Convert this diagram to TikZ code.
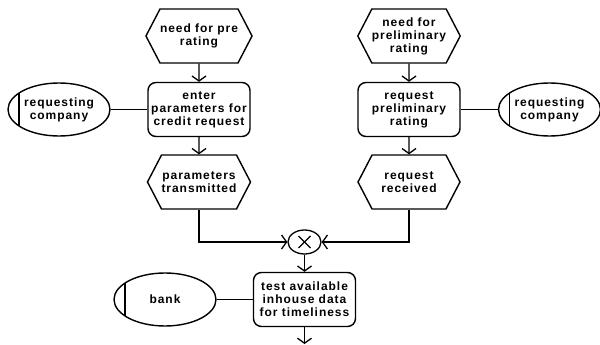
\documentclass[tikz,border=0pt]{standalone}
\usepackage{fontspec}
\setmainfont{Liberation Sans}[LetterSpace=8]
\usetikzlibrary{shapes.geometric,shapes.symbols,arrows.meta}
\begin{document}
\begin{tikzpicture}[x=1pt,y=-1pt,
  every node/.style={font=\bfseries\fontsize{12}{13}\selectfont, align=center, inner sep=0pt},
  evt/.style={draw, line width=1.4pt, signal, signal to=east and west, signal pointer angle=125, minimum width=102pt, minimum height=54pt},
  fn/.style={draw, line width=1.4pt, rectangle, rounded corners=8pt, minimum width=102pt, minimum height=54pt},
  org/.style={draw, line width=1.4pt, ellipse, minimum width=102pt, minimum height=53pt,
    path picture={\draw[line width=1.4pt] ([xshift=11pt]path picture bounding box.north west) -- ([xshift=11pt]path picture bounding box.south west);}},
  xorc/.style={draw, line width=1.3pt, ellipse, minimum width=33pt, minimum height=24pt,
    path picture={\draw[line width=1.1pt] ([shift={(-6pt,-6pt)}]path picture bounding box.center) -- ([shift={(6pt,6pt)}]path picture bounding box.center);
                  \draw[line width=1.1pt] ([shift={(-6pt,6pt)}]path picture bounding box.center) -- ([shift={(6pt,-6pt)}]path picture bounding box.center);}},
  arr/.style={line width=1.3pt, -{Straight Barb[length=5pt,width=14pt]}},
  ln/.style={line width=1.3pt}]
\useasboundingbox (0,0) rectangle (600,345);
% left column
\node[evt] (h1) at (199,36) {need for pre\\rating};
\node[fn]  (f1) at (199,109.5) {enter\\parameters for\\credit request};
\node[org] (e1) at (59,109.5) {requesting\\company};
\node[evt] (h3) at (199,182) {parameters\\transmitted};
% right column
\node[evt] (h2) at (409,36) {need for\\preliminary\\rating};
\node[fn]  (f2) at (409,109.5) {request\\preliminary\\rating};
\node[org] (e2) at (549.5,109.5) {requesting\\company};
\node[evt] (h4) at (409,182) {request\\received};
% join
\node[xorc] (x) at (304.5,242) {};
\node[fn]  (f5) at (304.5,299.5) {test available\\inhouse data\\for timeliness};
\node[org] (e5) at (165,299.5) {bank};
\coordinate (out) at (304.5,344);
% connectors
\draw[arr] (h1) -- (f1);
\draw[arr] (f1) -- (h3);
\draw[arr] (h2) -- (f2);
\draw[arr] (f2) -- (h4);
\draw[ln] (e1) -- (f1);
\draw[ln] (e2) -- (f2);
\draw[ln] (e5) -- (f5);
\draw[arr] (h3.south) |- (x.west);
\draw[arr] (h4.south) |- (x.east);
\draw[arr] (x) -- (f5);
\draw[arr] (f5) -- (out);
\end{tikzpicture}
\end{document}
